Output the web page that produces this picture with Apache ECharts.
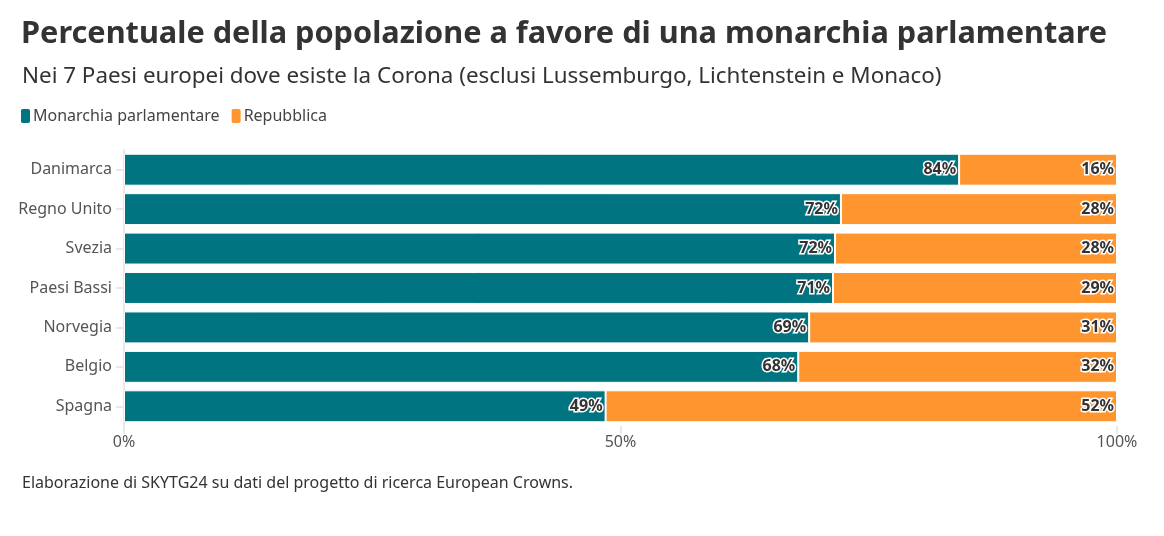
<!DOCTYPE html>
<html><head><meta charset="utf-8">
<script src="https://cdn.jsdelivr.net/npm/echarts@6/dist/echarts.min.js"></script>
<style>html,body{margin:0;padding:0;background:#fff}#c{width:1164px;height:536px}</style>
</head><body><div id="c"></div>
<script>
const categories = ["Danimarca","Regno Unito","Svezia","Paesi Bassi","Norvegia","Belgio","Spagna"];
const monarchia = [84.1, 72.2, 71.6, 71.4, 69.0, 67.9, 48.5];
const repubblica = [15.9, 27.8, 28.4, 28.6, 31.0, 32.1, 51.5];
const seriesNames = ["Monarchia parlamentare","Repubblica"];
const xTicks = [0, 50, 100];

const FONT = "'Noto Sans', sans-serif";
const chart = echarts.init(document.getElementById('c'));
const labelCfg = {
  show: true, position: 'insideRight', distance: 3,
  formatter: p => Math.round(p.value) + '%',
  color: '#333', fontSize: 16, fontFamily: FONT, fontWeight: 'bold',
  textBorderColor: '#fff', textBorderWidth: 3
};
chart.setOption({
  animation: false,
  textStyle: {fontFamily: FONT},
  title: [
    {text: 'Percentuale della popolazione a favore di una monarchia parlamentare', left: 16, top: 14,
     textStyle: {fontSize: 30.7, fontWeight: 'bold', color: '#333', fontFamily: FONT}},
    {text: 'Nei 7 Paesi europei dove esiste la Corona (esclusi Lussemburgo, Lichtenstein e Monaco)', left: 17, top: 61,
     textStyle: {fontSize: 22.4, fontWeight: 'normal', color: '#333', fontFamily: FONT}},
    {text: 'Elaborazione di SKYTG24 su dati del progetto di ricerca European Crowns.', left: 17, top: 470,
     textStyle: {fontSize: 16, fontWeight: 'normal', color: '#333', fontFamily: FONT}}
  ],
  legend: {
    left: 14, top: 102, icon: 'roundRect', itemWidth: 11, itemHeight: 16, itemGap: 10,
    textStyle: {fontSize: 16, color: '#444', fontFamily: FONT, padding: [0,0,0,-3]},
    data: seriesNames
  },
  grid: {left: 124, right: 47, top: 150, bottom: 110},
  xAxis: {
    type: 'value', min: 0, max: 100, interval: 50,
    axisLine: {show: false},
    axisTick: {show: true, length: 8, lineStyle: {color: '#e8e8e8', width: 2}},
    splitLine: {show: false},
    axisLabel: {formatter: v => xTicks.includes(v) ? v + '%' : '', color: '#555', fontSize: 16, margin: 8, fontFamily: FONT}
  },
  yAxis: {
    type: 'category', data: categories, inverse: true,
    axisLine: {show: true, lineStyle: {color: '#e8e8e8', width: 2}},
    axisTick: {show: true, length: 8, alignWithLabel: true, lineStyle: {color: '#e8e8e8', width: 2}},
    axisLabel: {color: '#555', fontSize: 16, margin: 12, fontFamily: FONT}
  },
  series: [
    {name: seriesNames[0], type: 'bar', stack: 't', data: monarchia, barCategoryGap: '19%',
     itemStyle: {color: '#007581', borderColor: '#fff', borderWidth: 1}, label: labelCfg},
    {name: seriesNames[1], type: 'bar', stack: 't', data: repubblica, barCategoryGap: '19%',
     itemStyle: {color: '#fe952e', borderColor: '#fff', borderWidth: 1}, label: labelCfg}
  ]
});
</script></body></html>
